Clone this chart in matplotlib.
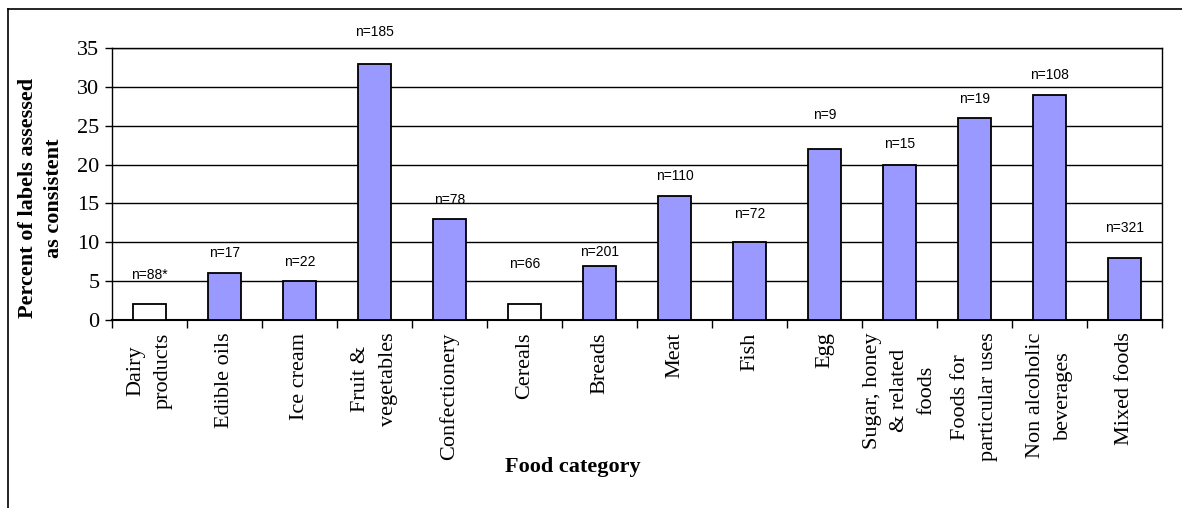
import matplotlib.pyplot as plt
import numpy as np
from matplotlib.lines import Line2D

categories = ["Dairy\nproducts", "Edible oils", "Ice cream", "Fruit &\nvegetables",
              "Confectionery", "Cereals", "Breads", "Meat", "Fish", "Egg",
              "Sugar, honey\n& related\nfoods", "Foods for\nparticular uses",
              "Non alcoholic\nbeverages", "Mixed foods"]
percent = [2, 6, 5, 33, 13, 2, 7, 16, 10, 22, 20, 26, 29, 8]
n_labels = ["n=88*", "n=17", "n=22", "n=185", "n=78", "n=66", "n=201", "n=110",
            "n=72", "n=9", "n=15", "n=19", "n=108", "n=321"]
label_y = [5.8, 8.6, 7.5, 37.1, 15.4, 7.2, 8.75, 18.5, 13.6, 26.4, 22.6, 28.4, 31.5, 11.8]
hollow = ["Dairy\nproducts", "Cereals"]

serif = "Liberation Serif"
sans = "Liberation Sans"

fig = plt.figure(figsize=(11.82, 5.08), dpi=100)
ax = fig.add_axes([112 / 1182, 1 - 320 / 508, 1050 / 1182, 272 / 508])

x = np.arange(len(categories))
colors = ["white" if c in hollow else "#9999FF" for c in categories]
ax.bar(x, percent, width=0.43, color=colors, edgecolor="black", linewidth=1.3, zorder=3)

for i, lab in enumerate(n_labels):
    ax.text(x[i], label_y[i], lab, ha="center", va="center", fontsize=10,
            family=sans, clip_on=False)

ax.set_xlim(-0.5, len(categories) - 0.5)
ax.set_ylim(0, 35)
ax.set_yticks(range(0, 36, 5))
ax.yaxis.grid(True, color="black", linewidth=1.0, zorder=0)
ax.set_axisbelow(True)

ax.set_xticks(x)
ax.set_xticklabels(categories, rotation=90, family=serif, fontsize=16,
                   multialignment="center", va="top", ha="center", linespacing=1.6)
ax.set_xticks(np.arange(-0.5, len(categories)), minor=True)
ax.tick_params(axis="x", which="major", length=0, pad=9)
ax.tick_params(axis="x", which="minor", length=6, width=1, direction="out")
ax.tick_params(axis="y", length=5, width=1, direction="out", pad=4)
for t in ax.get_yticklabels():
    t.set_family(serif)
    t.set_fontsize(16)

for s in ["left", "right", "top"]:
    ax.spines[s].set_linewidth(1.0)
ax.spines["bottom"].set_linewidth(1.5)

fig.text(41 / 1182, 1 - 198 / 508, "Percent of labels assessed\nas consistent",
         rotation=90, ha="center", va="center", multialignment="center",
         family=serif, fontsize=16, fontweight="bold", linespacing=1.45)
fig.text(573 / 1182, 1 - 467 / 508, "Food category", ha="center", va="center",
         family=serif, fontsize=16, fontweight="bold")

# outer frame (top and left only)
fig.add_artist(Line2D([8 / 1182, 1], [1 - 9 / 508, 1 - 9 / 508], color="black", lw=1.2,
                      transform=fig.transFigure))
fig.add_artist(Line2D([8 / 1182, 8 / 1182], [0, 1 - 9 / 508], color="black", lw=1.2,
                      transform=fig.transFigure))

fig.savefig("out.png", dpi=100)
